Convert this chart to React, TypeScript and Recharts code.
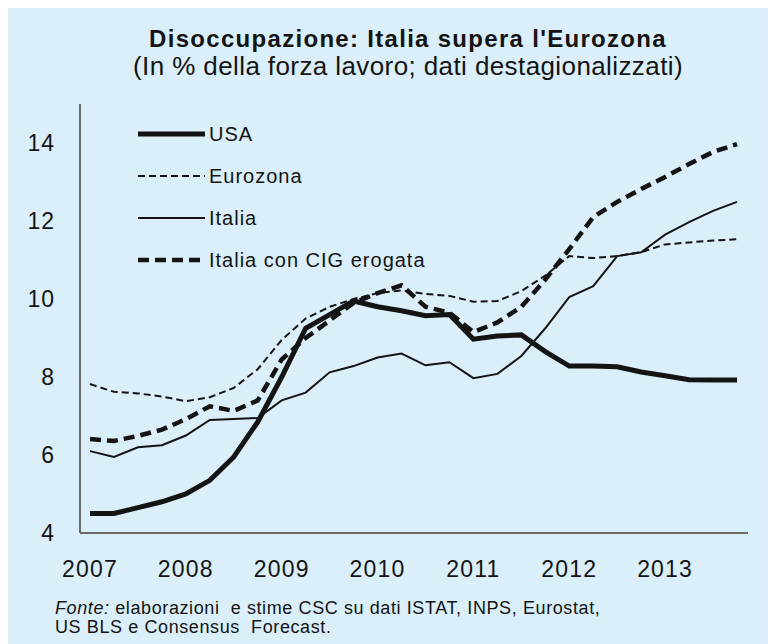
// App.tsx
import React from "react";
import { LineChart, Line, XAxis, YAxis, Legend } from "recharts";

const quarters = [
  "2007-T1", "2007-T2", "2007-T3", "2007-T4",
  "2008-T1", "2008-T2", "2008-T3", "2008-T4",
  "2009-T1", "2009-T2", "2009-T3", "2009-T4",
  "2010-T1", "2010-T2", "2010-T3", "2010-T4",
  "2011-T1", "2011-T2", "2011-T3", "2011-T4",
  "2012-T1", "2012-T2", "2012-T3", "2012-T4",
  "2013-T1", "2013-T2", "2013-T3", "2013-T4",
];

const yearTicks = ["2007-T1", "2008-T1", "2009-T1", "2010-T1", "2011-T1", "2012-T1", "2013-T1"];
const valueTicks = [4, 6, 8, 10, 12, 14];

const usa = [
  4.5, 4.5, 4.65, 4.8, 5.0, 5.35, 5.95, 6.85, 8.0, 9.25, 9.6, 9.95, 9.8, 9.7,
  9.57, 9.6, 8.97, 9.05, 9.08, 8.65, 8.28, 8.28, 8.26, 8.13, 8.03, 7.93, 7.92, 7.92,
];
const eurozona = [
  7.82, 7.62, 7.58, 7.5, 7.38, 7.48, 7.72, 8.2, 8.95, 9.5, 9.8, 10.0, 10.15, 10.22,
  10.13, 10.08, 9.93, 9.95, 10.2, 10.6, 11.1, 11.05, 11.1, 11.2, 11.4, 11.45, 11.5, 11.53,
];
const italia = [
  6.1, 5.95, 6.2, 6.25, 6.5, 6.9, 6.92, 6.95, 7.4, 7.6, 8.12, 8.28, 8.5, 8.6,
  8.3, 8.38, 7.97, 8.08, 8.54, 9.25, 10.05, 10.33, 11.1, 11.2, 11.65, 11.97, 12.26, 12.49,
];
const italiaCig = [
  6.41, 6.36, 6.49, 6.65, 6.92, 7.25, 7.13, 7.4, 8.45, 9.0, 9.45, 9.9, 10.15, 10.35,
  9.8, 9.65, 9.15, 9.4, 9.8, 10.5, 11.28, 12.1, 12.49, 12.82, 13.13, 13.46, 13.77, 13.97,
];

const data = quarters.map((q, i) => ({
  q,
  usa: usa[i],
  eurozona: eurozona[i],
  italia: italia[i],
  italiaCig: italiaCig[i],
}));

const ink = "#141414";
const frame = { stroke: "#6a6a6a", strokeWidth: 2 };
const font = "'Liberation Sans', Arial, sans-serif";

const series = [
  { key: "usa", name: "USA", width: 5, dash: undefined },
  { key: "eurozona", name: "Eurozona", width: 2, dash: "7 4" },
  { key: "italia", name: "Italia", width: 2, dash: undefined },
  { key: "italiaCig", name: "Italia con CIG erogata", width: 4.5, dash: "11 6" },
];

const YearTick = (props: any) => {
  const { x, y, payload } = props;
  return (
    <text
      x={x}
      y={y}
      dy="0.71em"
      textAnchor="middle"
      fill={ink}
      fontSize={23}
      fontFamily={font}
      style={{ letterSpacing: "1.2px" }}
    >
      {String(payload.value).slice(0, 4)}
    </text>
  );
};

const ValueTick = (props: any) => {
  const { x, y, payload } = props;
  return (
    <text
      x={x}
      y={y}
      dy="0.355em"
      textAnchor="end"
      fill={ink}
      fontSize={23}
      fontFamily={font}
      style={{ letterSpacing: "1px" }}
    >
      {payload.value}
    </text>
  );
};

const LegendBox = () => (
  <div style={{ fontFamily: font }}>
    {series.map((s) => (
      <div
        key={s.key}
        style={{ display: "flex", alignItems: "center", height: 42 }}
      >
        <svg width={67} height={10}>
          <line
            x1={0}
            y1={5}
            x2={67}
            y2={5}
            stroke={ink}
            strokeWidth={s.width}
            strokeDasharray={s.dash}
          />
        </svg>
        <span
          style={{
            marginLeft: 4,
            fontSize: 20,
            letterSpacing: "1px",
            color: ink,
            whiteSpace: "nowrap",
          }}
        >
          {s.name}
        </span>
      </div>
    ))}
  </div>
);

export default function App() {
  return (
    <div
      style={{
        position: "relative",
        width: 768,
        height: 636,
        background: "#daeff9",
        fontFamily: font,
        color: ink,
        overflow: "hidden",
      }}
    >
      <div
        style={{
          position: "absolute",
          top: 16,
          left: 400,
          transform: "translateX(-50%)",
          fontSize: 24,
          lineHeight: "30px",
          fontWeight: "bold",
          letterSpacing: "1.3px",
          whiteSpace: "nowrap",
        }}
      >
        Disoccupazione: Italia supera l'Eurozona
      </div>
      <div
        style={{
          position: "absolute",
          top: 43,
          left: 400,
          transform: "translateX(-50%)",
          fontSize: 26,
          lineHeight: "30px",
          letterSpacing: "0.4px",
          whiteSpace: "nowrap",
        }}
      >
        (In % della forza lavoro; dati destagionalizzati)
      </div>

      <LineChart
        width={768}
        height={636}
        data={data}
        margin={{ top: 96, right: 28, left: 0, bottom: 51 }}
      >
        <XAxis
          dataKey="q"
          ticks={yearTicks}
          interval={0}
          tick={<YearTick />}
          tickSize={0}
          tickMargin={28}
          axisLine={frame}
          height={60}
          padding={{ left: 10, right: 11 }}
        />
        <XAxis
          xAxisId="top"
          dataKey="q"
          orientation="top"
          tick={false}
          tickLine={false}
          axisLine={frame}
          height={0}
        />
        <YAxis
          domain={[4, 15]}
          ticks={valueTicks}
          interval={0}
          tick={<ValueTick />}
          tickSize={0}
          tickMargin={25}
          axisLine={frame}
          width={72}
        />
        <YAxis
          yAxisId="right"
          orientation="right"
          domain={[4, 15]}
          tick={false}
          tickLine={false}
          axisLine={frame}
          width={0}
        />
        {series.map((s) => (
          <Line
            key={s.key}
            type="linear"
            dataKey={s.key}
            name={s.name}
            stroke={ink}
            strokeWidth={s.width}
            strokeDasharray={s.dash}
            dot={false}
            activeDot={false}
            isAnimationActive={false}
          />
        ))}
        <Legend
          layout="vertical"
          align="center"
          verticalAlign="middle"
          content={<LegendBox />}
          wrapperStyle={{ top: 105, left: 130, width: "auto" }}
        />
      </LineChart>

      <div
        style={{
          position: "absolute",
          top: 591,
          left: 47,
          fontSize: 18,
          lineHeight: "19px",
          letterSpacing: "0.6px",
          whiteSpace: "pre",
        }}
      >
        <i>Fonte:</i>
        {" elaborazioni  e stime CSC su dati ISTAT, INPS, Eurostat,\nUS BLS e Consensus  Forecast."}
      </div>
    </div>
  );
}
